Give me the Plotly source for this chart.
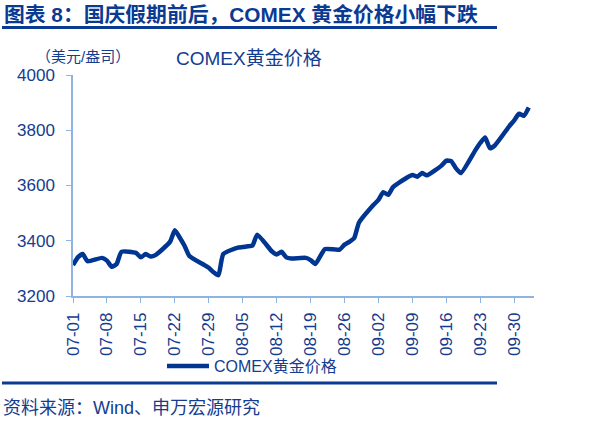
import plotly.graph_objects as go

dates = [
    "2025-07-01", "2025-07-02", "2025-07-03", "2025-07-04",
    "2025-07-07", "2025-07-08", "2025-07-09", "2025-07-10", "2025-07-11",
    "2025-07-14", "2025-07-15", "2025-07-16", "2025-07-17", "2025-07-18",
    "2025-07-21", "2025-07-22", "2025-07-23", "2025-07-24", "2025-07-25",
    "2025-07-28", "2025-07-29", "2025-07-30", "2025-07-31", "2025-08-01",
    "2025-08-04", "2025-08-05", "2025-08-06", "2025-08-07", "2025-08-08",
    "2025-08-11", "2025-08-12", "2025-08-13", "2025-08-14", "2025-08-15",
    "2025-08-18", "2025-08-19", "2025-08-20", "2025-08-21", "2025-08-22",
    "2025-08-25", "2025-08-26", "2025-08-27", "2025-08-28", "2025-08-29",
    "2025-09-01", "2025-09-02", "2025-09-03", "2025-09-04", "2025-09-05",
    "2025-09-08", "2025-09-09", "2025-09-10", "2025-09-11", "2025-09-12",
    "2025-09-15", "2025-09-16", "2025-09-17", "2025-09-18", "2025-09-19",
    "2025-09-22", "2025-09-23", "2025-09-24", "2025-09-25", "2025-09-26",
    "2025-09-29", "2025-09-30", "2025-10-01", "2025-10-02", "2025-10-03",
]
gold = [
    3312, 3340, 3352, 3326,
    3338, 3328, 3306, 3316, 3360,
    3356, 3340, 3352, 3343, 3348,
    3396, 3438, 3412, 3382, 3345,
    3313, 3302, 3286, 3275, 3352,
    3375, 3377, 3380, 3382, 3422,
    3362, 3350, 3360, 3340, 3336,
    3338, 3330, 3316, 3344, 3370,
    3368, 3386, 3396, 3410, 3466,
    3530, 3548, 3576, 3566, 3594,
    3630, 3638, 3632, 3645, 3637,
    3672, 3690, 3688, 3662, 3645,
    3728, 3754, 3774, 3735, 3745,
    3815, 3836, 3860, 3852, 3882,
]
series_name = "COMEX黄金价格"
y_ticks = [3200, 3400, 3600, 3800, 4000]

FONT = "Arial, Liberation Sans, Noto Sans CJK SC"
TXT = "#143C8F"
NAVY = "#003591"
AXIS = "#8DB4E2"

W, H = 589, 422
L, R, T, B = 73, 55, 75, 126
PW, PH = W - L - R, H - T - B


def fx(px):
    return (px - L) / PW


def fy(py):
    return (H - B - py) / PH


fig = go.Figure()
fig.add_trace(go.Scatter(
    x=dates, y=gold, mode="lines", name=series_name,
    line=dict(color=NAVY, width=4.5, shape="spline", smoothing=0.5),
))

fig.update_layout(
    width=W, height=H,
    margin=dict(l=L, r=R, t=T, b=B, pad=0),
    paper_bgcolor="white", plot_bgcolor="white",
    font=dict(family=FONT, color=TXT, size=17),
    showlegend=True,
    legend=dict(orientation="h", x=fx(162), xanchor="left", y=fy(366), yanchor="middle",
                itemwidth=42,
                font=dict(size=16, color=TXT), bgcolor="rgba(0,0,0,0)"),
    xaxis=dict(
        type="date", range=["2025-07-01", "2025-10-04 02:00"],
        tick0="2025-07-01", dtick=7 * 86400000, tickformat="%m-%d",
        tickangle=-90, ticks="outside", ticklen=5, tickcolor=AXIS,
        showline=True, linecolor=AXIS, linewidth=1.5, showgrid=False, zeroline=False,
        tickfont=dict(size=17, color=TXT), ticklabelstandoff=3,
    ),
    yaxis=dict(
        range=[3200, 4000], tickvals=y_ticks, ticks="outside", ticklen=5, tickcolor=AXIS,
        showline=True, linecolor=AXIS, linewidth=1.5, showgrid=False, zeroline=False,
        tickfont=dict(size=17, color=TXT), ticklabelstandoff=8,
    ),
)

anns = [
    dict(text="<b>图表 8：国庆假期前后，COMEX 黄金价格小幅下跌</b>", x=fx(2), y=fy(14),
         xanchor="left", yanchor="middle", font=dict(size=20.8, color="#0A3A92")),
    dict(text="（美元/盎司）", x=fx(34), y=fy(56), xanchor="left", yanchor="middle",
         font=dict(size=15, color=TXT)),
    dict(text="COMEX黄金价格", x=fx(174), y=fy(58), xanchor="left", yanchor="middle",
         font=dict(size=19, color=TXT)),
    dict(text="资料来源：Wind、申万宏源研究", x=fx(1), y=fy(408), xanchor="left", yanchor="middle",
         font=dict(size=18, color=TXT)),
]
for a in anns:
    fig.add_annotation(xref="paper", yref="paper", showarrow=False, **a)

for yy in (27.5, 383):
    fig.add_shape(type="line", xref="paper", yref="paper", x0=fx(2), x1=fx(497),
                  y0=fy(yy), y1=fy(yy), line=dict(color="#0A3A92", width=3))

fig.write_html("out.html", config={"displayModeBar": False},
               post_script="document.body.style.margin='0';document.body.style.overflow='hidden';")
